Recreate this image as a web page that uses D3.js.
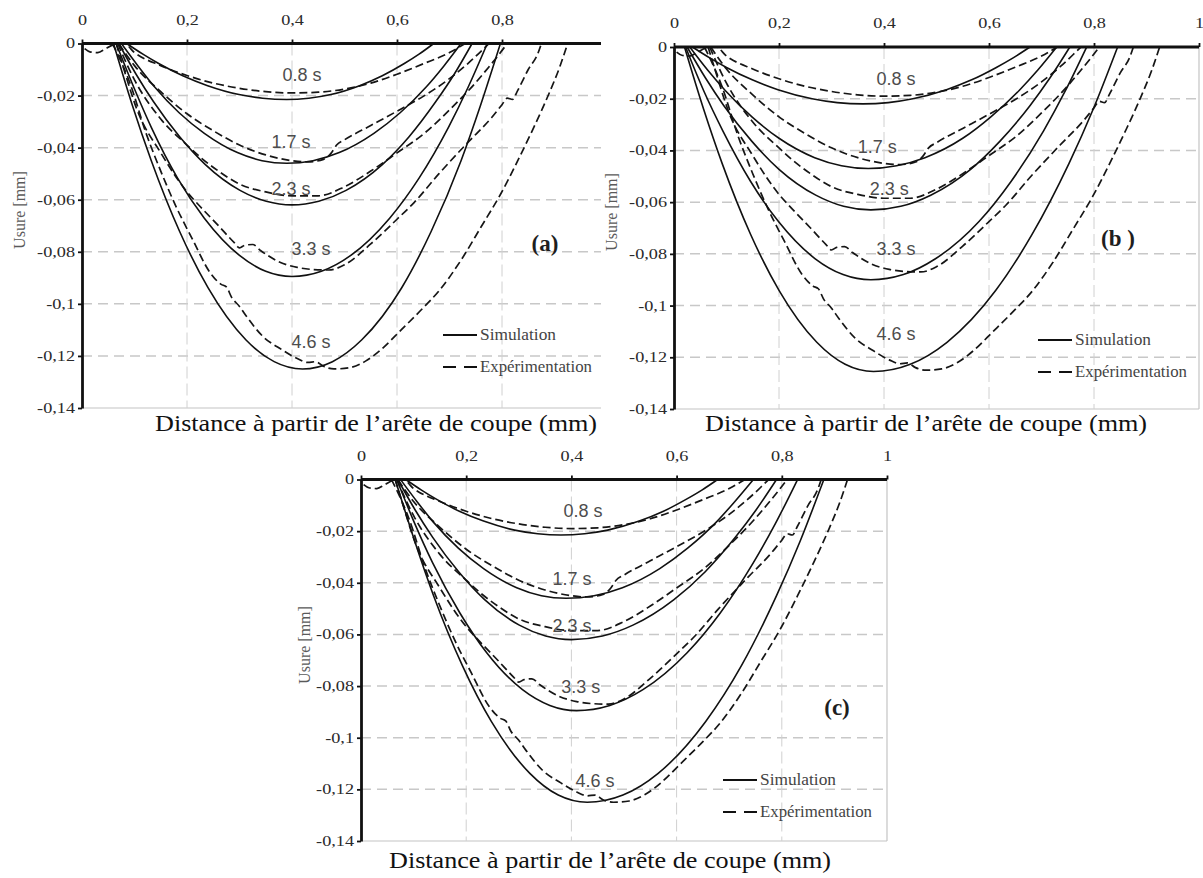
<!DOCTYPE html>
<html>
<head>
<meta charset="utf-8">
<script src="https://cdn.jsdelivr.net/npm/d3@7"></script>
<style>body{margin:0;background:#fff}</style>
</head>
<body>
<script>
const W = 1203, H = 878;

const xTicks = [0, 0.2, 0.4, 0.6, 0.8, 1];
const yTicks = [0, -0.02, -0.04, -0.06, -0.08, -0.1, -0.12, -0.14];
const times = ["0.8 s", "1.7 s", "2.3 s", "3.3 s", "4.6 s"];

// measured wear profiles, identical in the three panels
const exp08 = [[0.005,-0.002],[0.015,-0.0032],[0.03,-0.0035],[0.045,-0.002],[0.06,-0.0005],[0.08,0],[0.1,-0.0035],[0.15,-0.0085],[0.2,-0.0123],[0.25,-0.0152],[0.3,-0.0172],[0.35,-0.0185],[0.4,-0.019],[0.45,-0.0187],[0.5,-0.0175],[0.55,-0.0152],[0.6,-0.0118],[0.65,-0.0078],[0.7,-0.0035],[0.73,0]];
const exp17 = [[0.07,0],[0.1,-0.0085],[0.15,-0.0185],[0.2,-0.027],[0.25,-0.0335],[0.3,-0.039],[0.35,-0.0428],[0.4,-0.045],[0.43,-0.0455],[0.46,-0.0445],[0.475,-0.042],[0.485,-0.039],[0.5,-0.037],[0.55,-0.0315],[0.6,-0.026],[0.65,-0.0203],[0.7,-0.0135],[0.735,-0.0077],[0.76,-0.003],[0.775,0]];
const exp23 = [[0.068,0],[0.1,-0.014],[0.15,-0.029],[0.2,-0.039],[0.225,-0.0436],[0.26,-0.049],[0.3,-0.054],[0.35,-0.057],[0.4,-0.0585],[0.45,-0.0585],[0.5,-0.055],[0.55,-0.049],[0.6,-0.042],[0.652,-0.0345],[0.7,-0.0255],[0.75,-0.015],[0.775,-0.009],[0.795,-0.004],[0.81,0]];
const exp33 = [[0.065,0],[0.08,-0.01],[0.104,-0.025],[0.15,-0.042],[0.2,-0.057],[0.225,-0.0626],[0.26,-0.07],[0.29,-0.0765],[0.3,-0.0785],[0.31,-0.0775],[0.325,-0.0772],[0.34,-0.0795],[0.377,-0.084],[0.41,-0.086],[0.44,-0.0868],[0.47,-0.087],[0.5,-0.085],[0.55,-0.077],[0.6,-0.0675],[0.633,-0.061],[0.68,-0.05],[0.735,-0.038],[0.78,-0.0285],[0.8,-0.0235],[0.81,-0.021],[0.82,-0.0215],[0.83,-0.018],[0.85,-0.01],[0.868,-0.004],[0.875,0]];
const exp46 = [[0.058,0],[0.07,-0.005],[0.09,-0.0145],[0.123,-0.035],[0.15,-0.049],[0.18,-0.063],[0.21,-0.075],[0.244,-0.088],[0.265,-0.0925],[0.275,-0.0935],[0.285,-0.0975],[0.3,-0.101],[0.314,-0.105],[0.345,-0.1126],[0.38,-0.1175],[0.41,-0.121],[0.43,-0.1225],[0.445,-0.1222],[0.46,-0.124],[0.48,-0.125],[0.51,-0.1245],[0.54,-0.122],[0.57,-0.1175],[0.608,-0.11],[0.65,-0.1015],[0.68,-0.095],[0.722,-0.0832],[0.76,-0.0705],[0.798,-0.0576],[0.83,-0.045],[0.861,-0.032],[0.89,-0.019],[0.91,-0.009],[0.925,0]];
const expAll = [exp08, exp17, exp23, exp33, exp46];

// simulation (a)
const simA08 = [[0.085,0],[0.116,-0.0041],[0.146,-0.0077],[0.192,-0.0124],[0.238,-0.0161],[0.299,-0.0196],[0.344,-0.021],[0.39,-0.0215],[0.432,-0.021],[0.474,-0.0196],[0.53,-0.0161],[0.572,-0.0124],[0.614,-0.0077],[0.642,-0.0041],[0.67,0]];
const simA17 = [[0.075,0],[0.107,-0.0087],[0.138,-0.0166],[0.185,-0.0266],[0.233,-0.0345],[0.296,-0.0419],[0.343,-0.045],[0.39,-0.046],[0.44,-0.045],[0.49,-0.0419],[0.556,-0.0345],[0.606,-0.0266],[0.656,-0.0166],[0.689,-0.0087],[0.722,0]];
const simA23 = [[0.07,0],[0.103,-0.0118],[0.136,-0.0223],[0.186,-0.0358],[0.235,-0.0465],[0.301,-0.0564],[0.351,-0.0606],[0.4,-0.062],[0.451,-0.0606],[0.503,-0.0564],[0.572,-0.0465],[0.623,-0.0358],[0.674,-0.0223],[0.709,-0.0118],[0.743,0]];
const simA33 = [[0.065,0],[0.099,-0.017],[0.132,-0.0322],[0.182,-0.0517],[0.233,-0.0671],[0.3,-0.0814],[0.35,-0.0875],[0.4,-0.0895],[0.456,-0.0875],[0.512,-0.0814],[0.586,-0.0671],[0.642,-0.0517],[0.698,-0.0322],[0.735,-0.017],[0.772,0]];
const simA46 = [[0.06,0],[0.096,-0.0238],[0.132,-0.045],[0.186,-0.0722],[0.24,-0.0938],[0.312,-0.1138],[0.366,-0.1222],[0.42,-0.125],[0.477,-0.1222],[0.533,-0.1138],[0.609,-0.0938],[0.665,-0.0722],[0.722,-0.045],[0.759,-0.0238],[0.797,0]];

// simulation (b)
const simB08 = [[0.035,0],[0.068,-0.0042],[0.1,-0.0079],[0.149,-0.0127],[0.198,-0.0165],[0.263,-0.02],[0.311,-0.0215],[0.36,-0.022],[0.408,-0.0215],[0.455,-0.02],[0.519,-0.0165],[0.567,-0.0127],[0.614,-0.0079],[0.646,-0.0042],[0.678,0]];
const simB17 = [[0.03,0],[0.064,-0.0089],[0.098,-0.0169],[0.149,-0.0271],[0.2,-0.0353],[0.268,-0.0428],[0.319,-0.0459],[0.37,-0.047],[0.424,-0.0459],[0.478,-0.0428],[0.55,-0.0353],[0.603,-0.0271],[0.657,-0.0169],[0.693,-0.0089],[0.729,0]];
const simB23 = [[0.025,0],[0.06,-0.012],[0.095,-0.0227],[0.148,-0.0364],[0.2,-0.0473],[0.27,-0.0573],[0.323,-0.0616],[0.375,-0.063],[0.432,-0.0616],[0.489,-0.0573],[0.565,-0.0473],[0.621,-0.0364],[0.678,-0.0227],[0.716,-0.012],[0.754,0]];
const simB33 = [[0.022,0],[0.057,-0.0171],[0.093,-0.0324],[0.146,-0.052],[0.199,-0.0675],[0.269,-0.0819],[0.322,-0.088],[0.375,-0.09],[0.437,-0.088],[0.498,-0.0819],[0.581,-0.0675],[0.642,-0.052],[0.704,-0.0324],[0.745,-0.0171],[0.786,0]];
const simB46 = [[0.02,0],[0.056,-0.0238],[0.092,-0.0452],[0.146,-0.0725],[0.2,-0.0941],[0.272,-0.1142],[0.326,-0.1227],[0.38,-0.1255],[0.45,-0.1227],[0.52,-0.1142],[0.613,-0.0941],[0.682,-0.0725],[0.752,-0.0452],[0.799,-0.0238],[0.845,0]];

// simulation (c)
const simC08 = [[0.085,0],[0.115,-0.0041],[0.144,-0.0077],[0.188,-0.0124],[0.233,-0.0161],[0.292,-0.0196],[0.336,-0.021],[0.38,-0.0215],[0.425,-0.021],[0.469,-0.0196],[0.529,-0.0161],[0.574,-0.0124],[0.618,-0.0077],[0.648,-0.0041],[0.678,0]];
const simC17 = [[0.075,0],[0.107,-0.0087],[0.138,-0.0166],[0.185,-0.0266],[0.233,-0.0345],[0.296,-0.0419],[0.343,-0.045],[0.39,-0.046],[0.443,-0.045],[0.497,-0.0419],[0.568,-0.0345],[0.621,-0.0266],[0.675,-0.0166],[0.71,-0.0087],[0.746,0]];
const simC23 = [[0.07,0],[0.103,-0.0118],[0.136,-0.0223],[0.186,-0.0358],[0.235,-0.0465],[0.301,-0.0564],[0.351,-0.0606],[0.4,-0.062],[0.459,-0.0606],[0.517,-0.0564],[0.595,-0.0465],[0.654,-0.0358],[0.712,-0.0223],[0.751,-0.0118],[0.79,0]];
const simC33 = [[0.068,0],[0.102,-0.017],[0.136,-0.0322],[0.188,-0.0517],[0.239,-0.0671],[0.307,-0.0814],[0.359,-0.0875],[0.41,-0.0895],[0.473,-0.0875],[0.536,-0.0814],[0.62,-0.0671],[0.683,-0.0517],[0.746,-0.0322],[0.788,-0.017],[0.83,0]];
const simC46 = [[0.065,0],[0.102,-0.0238],[0.138,-0.045],[0.193,-0.0722],[0.248,-0.0938],[0.321,-0.1138],[0.375,-0.1222],[0.43,-0.125],[0.498,-0.1222],[0.565,-0.1138],[0.655,-0.0938],[0.723,-0.0722],[0.79,-0.045],[0.835,-0.0238],[0.88,0]];

// where the "x.x s" labels sit, in data units
const labelsA = [[0.419,-0.0144],[0.398,-0.0401],[0.398,-0.0582],[0.436,-0.0812],[0.436,-0.1169]];
const labelsB = [[0.423,-0.0147],[0.387,-0.041],[0.41,-0.0572],[0.423,-0.0804],[0.423,-0.1133]];
const labelsC = [[0.422,-0.0145],[0.401,-0.0408],[0.401,-0.059],[0.418,-0.0826],[0.445,-0.119]];

const panels = [
  { name: "(a)", sims: [simA08, simA17, simA23, simA33, simA46], labels: labelsA,
    x0: 82, x1: 607, cut: 601, y0: 43.5, y1: 408,
    letter: [545, 251], legend: [443, 335], ylab: [19, 210], title: [376, 431] },
  { name: "(b )", sims: [simB08, simB17, simB23, simB33, simB46], labels: labelsB,
    x0: 674, x1: 1199, cut: null, y0: 47, y1: 409,
    letter: [1118, 246], legend: [1038, 340], ylab: [611, 212], title: [926, 431] },
  { name: "(c)", sims: [simC08, simC17, simC23, simC33, simC46], labels: labelsC,
    x0: 361, x1: 887, cut: null, y0: 479.5, y1: 841,
    letter: [837, 715], legend: [723, 780], ylab: [304, 645], title: [610, 868] }
];

const serif = "'Liberation Serif', 'Times New Roman', Times, serif";
const sans = "'Liberation Sans', Arial, sans-serif";
const fmt = d => String(d).replace(".", ",");

const svg = d3.select("body").append("svg")
  .attr("width", W).attr("height", H)
  .style("background", "#fff");

panels.forEach((p, i) => {
  const x = d3.scaleLinear().domain([0, 1]).range([p.x0, p.x1]);
  const y = d3.scaleLinear().domain([0, -0.14]).range([p.y0, p.y1]);
  const right = p.cut || p.x1;
  const g = svg.append("g");

  svg.append("clipPath").attr("id", "clip" + i)
    .append("rect")
    .attr("x", p.x0).attr("y", p.y0 - 3)
    .attr("width", right - p.x0).attr("height", p.y1 - p.y0 + 6);

  // light frame bottom / right
  g.append("line")
    .attr("x1", p.x0).attr("x2", right).attr("y1", p.y1).attr("y2", p.y1)
    .attr("stroke", "#c4c4c4").attr("stroke-width", 1.2);
  if (!p.cut) {
    g.append("line")
      .attr("x1", right).attr("x2", right).attr("y1", p.y0).attr("y2", p.y1)
      .attr("stroke", "#c4c4c4").attr("stroke-width", 1.2);
  }

  // grid
  g.selectAll(".hg").data(yTicks.slice(1, -1)).join("line")
    .attr("x1", p.x0).attr("x2", right)
    .attr("y1", d => y(d)).attr("y2", d => y(d))
    .attr("stroke", "#c8c8c8").attr("stroke-width", 1.5)
    .attr("stroke-dasharray", "10,6");
  g.selectAll(".vg").data(xTicks.filter(v => v > 0 && v < 1)).join("line")
    .attr("x1", d => x(d)).attr("x2", d => x(d))
    .attr("y1", p.y0).attr("y2", p.y1)
    .attr("stroke", "#d0d0d0").attr("stroke-width", 1)
    .attr("stroke-dasharray", "12,5");

  // curves
  const line = d3.line()
    .x(d => x(d[0])).y(d => y(d[1]))
    .curve(d3.curveMonotoneX);
  const cg = g.append("g").attr("clip-path", "url(#clip" + i + ")");
  cg.selectAll(".exp").data(expAll).join("path")
    .attr("d", line).attr("fill", "none")
    .attr("stroke", "#161616").attr("stroke-width", 1.7)
    .attr("stroke-dasharray", "8,4");
  cg.selectAll(".sim").data(p.sims).join("path")
    .attr("d", line).attr("fill", "none")
    .attr("stroke", "#111").attr("stroke-width", 1.6);

  // axes
  const gx = g.append("g")
    .attr("transform", "translate(0," + p.y0 + ")")
    .call(d3.axisTop(x)
      .tickValues(xTicks.filter(v => x(v) <= right))
      .tickSize(4).tickSizeOuter(0).tickPadding(15)
      .tickFormat(fmt));
  gx.select(".domain").attr("d", "M" + p.x0 + ",0H" + right);

  const gy = g.append("g")
    .attr("transform", "translate(" + p.x0 + ",0)")
    .call(d3.axisLeft(y)
      .tickValues(yTicks)
      .tickSize(4).tickSizeOuter(0).tickPadding(3)
      .tickFormat(fmt));

  [gx, gy].forEach(a => {
    a.attr("font-family", null);
    a.select(".domain").attr("stroke", "#111").attr("stroke-width", 2.8);
    a.selectAll(".tick line").attr("stroke", "#111").attr("stroke-width", 1.8);
    a.selectAll(".tick text")
      .attr("fill", "#2a2a2a")
      .style("font-family", serif).style("font-size", "14px")
      .each(function() {
        // the scanned labels are drawn wide: stretch them sideways
        const w = this.getComputedTextLength();
        d3.select(this).attr("textLength", w * 1.3).attr("lengthAdjust", "spacingAndGlyphs");
      });
  });

  // curve labels
  g.selectAll(".lab").data(p.labels).join("text")
    .attr("x", d => x(d[0])).attr("y", d => y(d[1]))
    .attr("text-anchor", "middle")
    .style("font-family", sans).style("font-size", "18px")
    .attr("fill", "#4d4d4d")
    .text((d, k) => times[k]);

  // panel letter
  g.append("text")
    .attr("x", p.letter[0]).attr("y", p.letter[1])
    .attr("text-anchor", "middle")
    .style("font-family", serif).style("font-size", "23px").style("font-weight", "bold")
    .attr("fill", "#1e1e1e")
    .text(p.name);

  // legend
  const [lx, ly] = p.legend;
  const lg = g.append("g");
  lg.append("line").attr("x1", lx).attr("x2", lx + 34).attr("y1", ly).attr("y2", ly)
    .attr("stroke", "#111").attr("stroke-width", 2.2);
  lg.append("line").attr("x1", lx).attr("x2", lx + 34).attr("y1", ly + 32).attr("y2", ly + 32)
    .attr("stroke", "#111").attr("stroke-width", 2.2).attr("stroke-dasharray", "13,8");
  lg.append("text").attr("x", lx + 37).attr("y", ly + 5)
    .style("font-family", serif).style("font-size", "17px").attr("fill", "#444")
    .attr("textLength", 76).attr("lengthAdjust", "spacingAndGlyphs")
    .text("Simulation");
  lg.append("text").attr("x", lx + 37).attr("y", ly + 37)
    .style("font-family", serif).style("font-size", "17px").attr("fill", "#444")
    .attr("textLength", 112).attr("lengthAdjust", "spacingAndGlyphs")
    .text("Expérimentation");

  // axis titles
  g.append("text")
    .attr("transform", "translate(" + p.ylab[0] + "," + p.ylab[1] + ") rotate(-90)")
    .attr("text-anchor", "middle").attr("dy", "0.35em")
    .style("font-family", serif).style("font-size", "16px").attr("fill", "#5a5a5a")
    .text("Usure  [mm]");
  g.append("text")
    .attr("x", p.title[0]).attr("y", p.title[1])
    .attr("text-anchor", "middle")
    .style("font-family", serif).style("font-size", "23px").attr("fill", "#111")
    .attr("textLength", 442).attr("lengthAdjust", "spacingAndGlyphs")
    .text("Distance à partir de l’arête de coupe (mm)");
});
</script>
</body>
</html>
